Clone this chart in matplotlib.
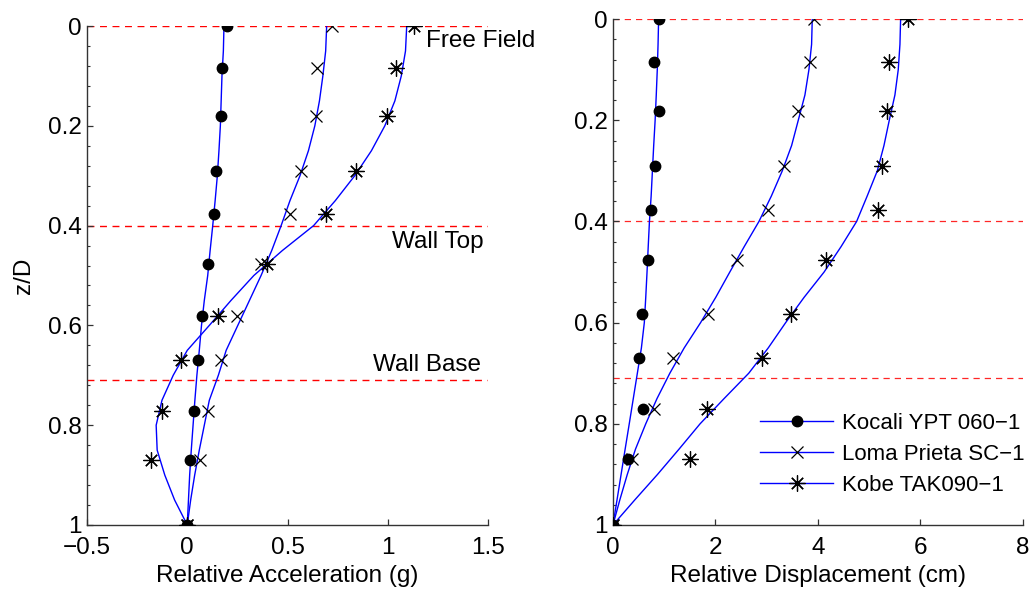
import matplotlib
matplotlib.use('Agg')
import matplotlib.pyplot as plt
from matplotlib.lines import Line2D
from matplotlib.ticker import MultipleLocator

plt.rcParams['font.family'] = ['Liberation Sans', 'DejaVu Sans']
FS = 17.5

# measured depths (z/D) of the instruments
z_pts = [0, 0.085, 0.181, 0.291, 0.377, 0.476, 0.582, 0.670, 0.771, 0.870, 1.0]

# relative acceleration (g)
kocali_acc = [0.197, 0.173, 0.168, 0.143, 0.135, 0.104, 0.074, 0.054, 0.035, 0.014, 0.0]
loma_acc = [0.724, 0.649, 0.642, 0.569, 0.512, 0.368, 0.250, 0.170, 0.105, 0.064, 0.0]
kobe_acc = [1.131, 1.041, 0.994, 0.840, 0.692, 0.396, 0.155, -0.030, -0.128, -0.181, 0.0]

# relative displacement (cm)
kocali_disp = [0.90, 0.794, 0.891, 0.818, 0.750, 0.680, 0.576, 0.501, 0.585, 0.29, 0.0]
loma_disp = [3.93, 3.85, 3.616, 3.33, 3.03, 2.415, 1.86, 1.18, 0.81, 0.38, 0.0]
kobe_disp = [5.76, 5.39, 5.355, 5.243, 5.177, 4.15, 3.475, 2.914, 1.83, 1.505, 0.0]

# fitted profiles
z_fit = [0, 0.05, 0.1, 0.15, 0.2, 0.25, 0.3, 0.35, 0.4, 0.45, 0.5,
         0.55, 0.6, 0.65, 0.7, 0.75, 0.8, 0.85, 0.9, 0.95, 1.0]
kocali_acc_fit = [0.183, 0.180, 0.173, 0.169, 0.165, 0.158, 0.150, 0.139, 0.127, 0.114, 0.102,
                  0.085, 0.071, 0.060, 0.048, 0.038, 0.029, 0.020, 0.012, 0.006, 0.0]
loma_acc_fit = [0.695, 0.690, 0.676, 0.659, 0.636, 0.604, 0.562, 0.512, 0.468, 0.421, 0.368,
                0.310, 0.252, 0.194, 0.155, 0.110, 0.085, 0.060, 0.037, 0.017, 0.0]
kobe_acc_fit = [1.094, 1.088, 1.067, 1.035, 0.985, 0.918, 0.835, 0.738, 0.630, 0.474, 0.332,
                0.218, 0.110, 0.0, -0.070, -0.126, -0.155, -0.150, -0.112, -0.063, 0.0]
kocali_disp_fit = [0.891, 0.880, 0.865, 0.845, 0.823, 0.795, 0.770, 0.745, 0.712, 0.688, 0.665,
                   0.640, 0.612, 0.555, 0.476, 0.397, 0.318, 0.238, 0.159, 0.080, 0.0]
loma_disp_fit = [3.889, 3.876, 3.824, 3.746, 3.616, 3.486, 3.304, 3.09, 2.849, 2.56, 2.28,
                 2.006, 1.71, 1.39, 1.11, 0.86, 0.64, 0.44, 0.28, 0.135, 0.0]
kobe_disp_fit = [5.613, 5.600, 5.567, 5.502, 5.392, 5.288, 5.158, 4.96, 4.755, 4.45, 4.12,
                 3.73, 3.37, 3.03, 2.65, 2.17, 1.70, 1.29, 0.87, 0.43, 0.0]

series_names = ['Kocali YPT 060\u22121', 'Loma Prieta SC\u22121', 'Kobe TAK090\u22121']
ref_levels = [0, 0.4, 0.709]
ref_names = ['Free Field', 'Wall Top', 'Wall Base']
ref_text_pos = [(1.19, 0.03), (1.02, 0.432), (0.925, 0.68)]
y_ticks = [0, 0.2, 0.4, 0.6, 0.8, 1]
y_ticklabels = ['0', '0.2', '0.4', '0.6', '0.8', '1']
acc_ticks = [-0.5, 0, 0.5, 1, 1.5]
acc_ticklabels = ['\u22120.5', '0', '0.5', '1', '1.5']
disp_ticks = [0, 2, 4, 6, 8]

ASTERISK = (8, 2, 0)
markers = [dict(marker='o', ms=7.5, mfc='k', mec='k'),
           dict(marker='x', ms=8.5, mec='k', mew=0.9),
           dict(marker=ASTERISK, ms=11.5, mec='k', mew=0.9)]


def style_axes(ax):
    for side in ('top', 'right'):
        ax.spines[side].set_visible(False)
    for side in ('left', 'bottom'):
        ax.spines[side].set_color('0.2')
        ax.spines[side].set_linewidth(1.0)
    ax.tick_params(direction='in', length=4, width=0.9, color='0.2', labelsize=FS)
    ax.tick_params(axis='y', pad=4)
    ax.tick_params(axis='x', pad=9)
    ax.tick_params(axis='y', which='minor', direction='in', length=2.5, width=0.8, color='0.2')
    ax.yaxis.set_minor_locator(MultipleLocator(0.04))
    ax.set_ylim(1, 0)
    ax.set_yticks(y_ticks)
    ax.set_yticklabels(y_ticklabels)


fig = plt.figure(figsize=(10.34, 5.91), dpi=100)
ax1 = fig.add_axes([0.0841, 0.1117, 0.388, 0.8443])
ax2 = fig.add_axes([0.5928, 0.1117, 0.3965, 0.856])

# left: acceleration
for lvl in ref_levels:
    ax1.axhline(lvl, color='red', ls=(0, (5, 4)), lw=1.0, zorder=1)
for fit in (kocali_acc_fit, loma_acc_fit, kobe_acc_fit):
    ax1.plot(fit, z_fit, color='blue', lw=1.0, zorder=2)
for vals, mk in zip((kocali_acc, loma_acc, kobe_acc), markers):
    ax1.plot(vals, z_pts, ls='none', zorder=3, **mk)
for name, (tx, tz) in zip(ref_names, ref_text_pos):
    ax1.text(tx, tz, name, fontsize=FS, va='center', ha='left', clip_on=False)
ax1.set_xlim(-0.5, 1.5)
ax1.set_xticks(acc_ticks)
ax1.set_xticklabels(acc_ticklabels)
ax1.set_xlabel('Relative Acceleration (g)', fontsize=FS, labelpad=4)
ax1.set_ylabel('z/D', fontsize=FS, labelpad=9)
style_axes(ax1)

# right: displacement
for lvl in ref_levels:
    ax2.axhline(lvl, color='red', ls=(0, (5, 4)), lw=0.9, alpha=0.85, zorder=1)
for fit in (kocali_disp_fit, loma_disp_fit, kobe_disp_fit):
    ax2.plot(fit, z_fit, color='blue', lw=1.0, zorder=2)
for vals, mk in zip((kocali_disp, loma_disp, kobe_disp), markers):
    ax2.plot(vals, z_pts, ls='none', zorder=3, **mk)
ax2.set_xlim(0, 8)
ax2.set_xticks(disp_ticks)
ax2.set_xlabel('Relative Displacement (cm)', fontsize=FS, labelpad=4)
style_axes(ax2)

handles = [Line2D([], [], color='blue', lw=1.0, **mk) for mk in markers]
ax2.legend(handles, series_names, loc='center left', bbox_to_anchor=(0.3585, 0.140),
           frameon=False, fontsize=16, handlelength=3.3, handletextpad=0.4,
           labelspacing=0.45, borderpad=0, borderaxespad=0)

fig.savefig('out.png', dpi=100)
